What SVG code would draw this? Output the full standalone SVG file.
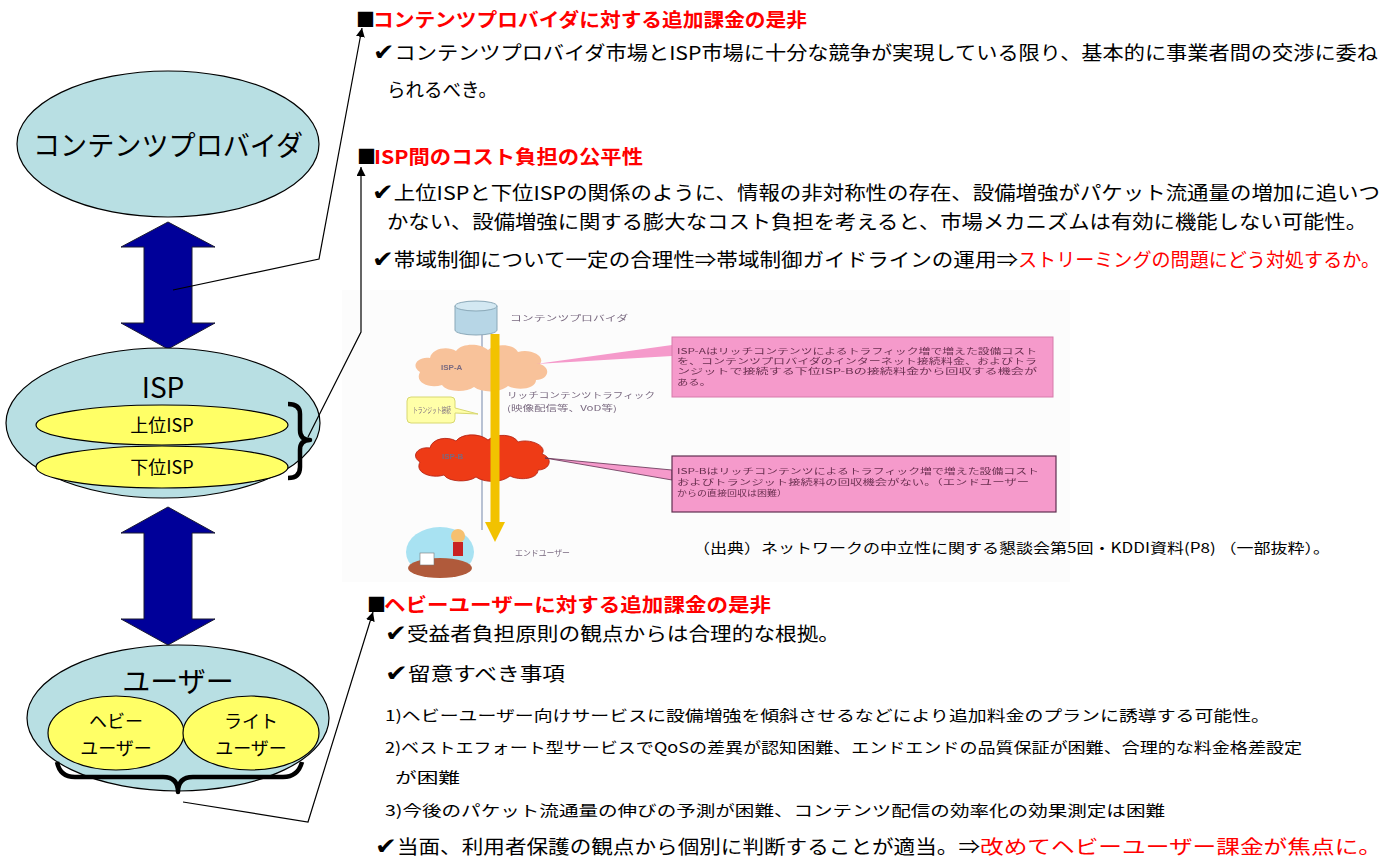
<svg xmlns="http://www.w3.org/2000/svg" width="1399" height="861" viewBox="0 0 1399 861">
  <defs>
    <style>
      .jp { font-family: "Noto Sans CJK JP", "DejaVu Sans", sans-serif; }
      .node { fill: #b8dfe3; stroke: #000; stroke-width: 1.2; }
      .sub { fill: #ffff66; stroke: #000; stroke-width: 1.2; }
      .big { font-size: 28px; fill: #000; }
      .mid { font-size: 18px; fill: #000; }
      .head { font-size: 19px; font-weight: bold; fill: #ff0000; }
      .sq { font-size: 19px; fill: #000; }
      .body { font-size: 19px; fill: #000; }
      .ck { font-size: 23px; }
      .small { font-size: 15px; fill: #000; }
      .red { fill: #ff0000; }
      .dbl { fill: #000099; stroke: #1a1a33; stroke-width: 1; }
      .brace { fill: none; stroke: #000; stroke-width: 4.5; stroke-linejoin: round; }
      .conn { fill: none; stroke: #000; stroke-width: 1.2; }
      .tiny { font-size: 8px; fill: #7a6a80; }
      .boxtxt { font-size: 8px; fill: #6a3050; }
    </style>
    <marker id="ah" viewBox="0 0 10 10" refX="10" refY="5" markerWidth="9" markerHeight="9" markerUnits="userSpaceOnUse" orient="auto">
      <path d="M0,0 L10,5 L0,10 z" fill="#000"/>
    </marker>
    <filter id="soft" x="-5%" y="-5%" width="110%" height="110%">
      <feGaussianBlur stdDeviation="0.6"/>
    </filter>
  </defs>

  <rect width="1399" height="861" fill="#ffffff"/>

  <!-- double arrows between the layers -->
  <g id="arrow-cp-isp">
    <polygon class="dbl" points="168,222 215,247 192,247 192,323 215,323 168,349 121,323 144,323 144,247 121,247"/>
  </g>
  <g id="arrow-isp-user">
    <polygon class="dbl" points="168,507 215,533 192,533 192,619 215,619 168,645 121,619 144,619 144,533 121,533"/>
  </g>

  <!-- content provider -->
  <g id="node-cp">
    <ellipse class="node" cx="168" cy="144" rx="151" ry="73"/>
    <text class="jp big" x="168" y="156" text-anchor="middle" textLength="270" lengthAdjust="spacingAndGlyphs">コンテンツプロバイダ</text>
  </g>

  <!-- ISP layer -->
  <g id="node-isp">
    <ellipse class="node" cx="163" cy="423" rx="157" ry="75"/>
    <text class="jp big" x="163" y="398" text-anchor="middle">ISP</text>
  </g>
  <g id="node-upper-isp">
    <ellipse class="sub" cx="162" cy="425" rx="126" ry="20"/>
    <text class="jp mid" x="162" y="432" text-anchor="middle">上位ISP</text>
  </g>
  <g id="node-lower-isp">
    <ellipse class="sub" cx="162" cy="467" rx="126" ry="21"/>
    <text class="jp mid" x="162" y="474" text-anchor="middle">下位ISP</text>
  </g>
  <path class="brace" d="M288,404 Q300,404 300,414 L300,430 Q300,440 310,440 Q300,440 300,450 L300,467 Q300,478 288,478"/>

  <!-- users -->
  <g id="node-user">
    <ellipse class="node" cx="178" cy="718" rx="151" ry="73"/>
    <text class="jp big" x="178" y="692" text-anchor="middle">ユーザー</text>
  </g>
  <g id="node-heavy">
    <ellipse class="sub" cx="116" cy="733" rx="68" ry="37"/>
    <text class="jp mid" x="116" y="728" text-anchor="middle">ヘビー</text>
    <text class="jp mid" x="116" y="755" text-anchor="middle">ユーザー</text>
  </g>
  <g id="node-light">
    <ellipse class="sub" cx="251" cy="733" rx="68" ry="37"/>
    <text class="jp mid" x="251" y="728" text-anchor="middle">ライト</text>
    <text class="jp mid" x="251" y="755" text-anchor="middle">ユーザー</text>
  </g>
  <path class="brace" d="M57,762 Q60,777 75,777 L163,777 Q178,777 178,792 Q178,777 193,777 L283,777 Q298,777 302,762"/>

  <!-- topic 1 -->
  <g id="topic-cp">
    <text class="jp sq" x="356" y="27">■</text>
    <text class="jp head" x="373" y="27" textLength="434" lengthAdjust="spacingAndGlyphs">コンテンツプロバイダに対する追加課金の是非</text>
    <text class="jp body" x="373" y="60" textLength="1005" lengthAdjust="spacingAndGlyphs"><tspan class="ck">✔</tspan>コンテンツプロバイダ市場とISP市場に十分な競争が実現している限り、基本的に事業者間の交渉に委ね</text>
    <text class="jp body" x="387" y="97" textLength="110" lengthAdjust="spacingAndGlyphs">られるべき。</text>
  </g>

  <!-- topic 2 -->
  <g id="topic-isp">
    <text class="jp sq" x="357" y="164">■</text>
    <text class="jp head" x="374" y="164" textLength="269" lengthAdjust="spacingAndGlyphs">ISP間のコスト負担の公平性</text>
    <text class="jp body" x="372" y="200" textLength="1008" lengthAdjust="spacingAndGlyphs"><tspan class="ck">✔</tspan>上位ISPと下位ISPの関係のように、情報の非対称性の存在、設備増強がパケット流通量の増加に追いつ</text>
    <text class="jp body" x="387" y="229" textLength="980" lengthAdjust="spacingAndGlyphs">かない、設備増強に関する膨大なコスト負担を考えると、市場メカニズムは有効に機能しない可能性。</text>
    <text class="jp body" x="372" y="267" textLength="646" lengthAdjust="spacingAndGlyphs"><tspan class="ck">✔</tspan>帯域制御について一定の合理性⇒帯域制御ガイドラインの運用⇒</text>
    <text class="jp body red" x="1018" y="267" textLength="362" lengthAdjust="spacingAndGlyphs">ストリーミングの問題にどう対処するか。</text>
  </g>

  <!-- excerpted figure: traffic path from provider to end user -->
  <g id="figure" filter="url(#soft)">
    <rect x="342" y="290" width="728" height="292" fill="#fcfcfc"/>
    <!-- provider server -->
    <path d="M455,306 L455,330 A21,5 0 0 0 497,330 L497,306 Z" fill="#b7d6e6" stroke="#8aa8b8" stroke-width="1"/>
    <ellipse cx="476" cy="306" rx="21" ry="5" fill="#d3e8f2" stroke="#8aa8b8" stroke-width="1"/>
    <text class="jp tiny" x="510" y="321" textLength="118" lengthAdjust="spacingAndGlyphs">コンテンツプロバイダ</text>
    <!-- transit line -->
    <line x1="482" y1="335" x2="482" y2="530" stroke="#8a9ab8" stroke-width="1.2"/>
    <!-- ISP-A cloud -->
    <path d="M420,372 C410,366 418,356 430,358 C432,348 448,346 456,351 C462,343 480,343 488,350 C496,343 514,344 518,352 C530,348 546,356 540,364 C552,368 548,380 536,380 C536,389 518,391 508,386 C500,393 482,393 474,387 C466,393 446,392 442,385 C430,389 414,383 420,372 Z" fill="#f8c29a"/>
    <text class="tiny" x="441" y="370" font-family="Liberation Sans, sans-serif" font-weight="bold" fill="#8a6a70">ISP-A</text>
    <!-- ISP-B cloud -->
    <path d="M420,462 C410,456 418,446 430,448 C432,438 448,436 456,441 C462,433 480,433 488,440 C496,433 514,434 518,442 C530,438 548,446 542,454 C554,458 550,470 538,470 C538,479 520,481 510,476 C502,483 484,483 476,477 C468,483 448,482 444,475 C432,479 414,473 420,462 Z" fill="#ee3a14" stroke="#b02010" stroke-width="0.8"/>
    <text class="tiny" x="442" y="459" font-family="Liberation Sans, sans-serif" font-weight="bold" fill="#a02020">ISP-B</text>
    <!-- rich content traffic -->
    <line x1="495" y1="334" x2="495" y2="528" stroke="#f2c200" stroke-width="9"/>
    <polygon points="485,522 505,522 495,542" fill="#f2c200"/>
    <text class="jp tiny" x="507" y="398" textLength="148" lengthAdjust="spacingAndGlyphs" fill="#7a8aa8">リッチコンテンツトラフィック</text>
    <text class="jp tiny" x="507" y="411" textLength="110" lengthAdjust="spacingAndGlyphs" fill="#7a8aa8">(映像配信等、VoD等)</text>
    <!-- transit callout -->
    <path d="M411,397 L451,397 Q455,397 455,401 L455,408 L478,414 L455,413 L455,419 Q455,423 451,423 L411,423 Q407,423 407,419 L407,401 Q407,397 411,397 Z" fill="#ffffa8" stroke="#d8d870" stroke-width="1"/>
    <text class="jp tiny" x="413" y="413" textLength="38" lengthAdjust="spacingAndGlyphs" fill="#8a8040">トランジット接続</text>
    <!-- note boxes -->
    <polygon points="536,364 672,345 672,356" fill="#f59acb"/>
    <rect x="672" y="337" width="381" height="60" fill="#f59acb" stroke="#d67aaa" stroke-width="1"/>
    <text class="jp boxtxt" x="677" y="354" textLength="360" lengthAdjust="spacingAndGlyphs">ISP-Aはリッチコンテンツによるトラフィック増で増えた設備コスト</text>
    <text class="jp boxtxt" x="677" y="364" textLength="360" lengthAdjust="spacingAndGlyphs">を、コンテンツプロバイダのインターネット接続料金、およびトラ</text>
    <text class="jp boxtxt" x="677" y="374" textLength="360" lengthAdjust="spacingAndGlyphs">ンジットで接続する下位ISP-Bの接続料金から回収する機会が</text>
    <text class="jp boxtxt" x="677" y="385" textLength="34" lengthAdjust="spacingAndGlyphs">ある。</text>
    <polygon points="545,458 672,470 672,480" fill="#f59acb" stroke="#603050" stroke-width="0.8"/>
    <rect x="672" y="456" width="384" height="56" fill="#f59acb" stroke="#603050" stroke-width="1.2"/>
    <text class="jp boxtxt" x="677" y="474" textLength="362" lengthAdjust="spacingAndGlyphs">ISP-Bはリッチコンテンツによるトラフィック増で増えた設備コスト</text>
    <text class="jp boxtxt" x="677" y="485" textLength="352" lengthAdjust="spacingAndGlyphs">およびトランジット接続料の回収機会がない。（エンドユーザー</text>
    <text class="jp boxtxt" x="677" y="496" textLength="110" lengthAdjust="spacingAndGlyphs">からの直接回収は困難）</text>
    <!-- end user -->
    <ellipse cx="440" cy="552" rx="34" ry="25" fill="#a8e2f2"/>
    <ellipse cx="440" cy="568" rx="32" ry="10" fill="#b05a3a"/>
    <rect x="420" y="553" width="14" height="12" fill="#ffffff" stroke="#777" stroke-width="0.6"/>
    <circle cx="458" cy="536" r="7" fill="#f6c070"/>
    <rect x="453" y="542" width="10" height="14" fill="#c82020"/>
    <text class="jp tiny" x="515" y="556" textLength="55" lengthAdjust="spacingAndGlyphs">エンドユーザー</text>
  </g>

  <text class="jp" x="693" y="553" font-size="14" fill="#000" textLength="637" lengthAdjust="spacingAndGlyphs">（出典）ネットワークの中立性に関する懇談会第5回・KDDI資料(P8) （一部抜粋）。</text>

  <!-- topic 3 -->
  <g id="topic-heavy">
    <text class="jp sq" x="367" y="612">■</text>
    <text class="jp head" x="384" y="612" textLength="387" lengthAdjust="spacingAndGlyphs">ヘビーユーザーに対する追加課金の是非</text>
    <text class="jp body" x="385" y="641" textLength="455" lengthAdjust="spacingAndGlyphs"><tspan class="ck">✔</tspan>受益者負担原則の観点からは合理的な根拠。</text>
    <text class="jp body" x="385" y="681" textLength="180" lengthAdjust="spacingAndGlyphs"><tspan class="ck">✔</tspan>留意すべき事項</text>
    <text class="jp small" x="385" y="721" textLength="885" lengthAdjust="spacingAndGlyphs">1)ヘビーユーザー向けサービスに設備増強を傾斜させるなどにより追加料金のプランに誘導する可能性。</text>
    <text class="jp small" x="385" y="753" textLength="917" lengthAdjust="spacingAndGlyphs">2)ベストエフォート型サービスでQoSの差異が認知困難、エンドエンドの品質保証が困難、合理的な料金格差設定</text>
    <text class="jp small" x="395" y="783" textLength="65" lengthAdjust="spacingAndGlyphs">が困難</text>
    <text class="jp small" x="385" y="816" textLength="780" lengthAdjust="spacingAndGlyphs">3)今後のパケット流通量の伸びの予測が困難、コンテンツ配信の効率化の効果測定は困難</text>
    <text class="jp body" x="375" y="854" textLength="605" lengthAdjust="spacingAndGlyphs"><tspan class="ck">✔</tspan>当面、利用者保護の観点から個別に判断することが適当。⇒</text>
    <text class="jp body red" x="980" y="854" textLength="402" lengthAdjust="spacingAndGlyphs">改めてヘビーユーザー課金が焦点に。</text>
  </g>

  <!-- leader lines from the left column to the topics -->
  <g id="connectors">
    <polyline class="conn" points="173,290 319,259 362,28" marker-end="url(#ah)"/>
    <polyline class="conn" points="308,437 361,332 361,167" marker-end="url(#ah)"/>
    <polyline class="conn" points="183,802 308,822 373,612" marker-end="url(#ah)"/>
  </g>
</svg>
